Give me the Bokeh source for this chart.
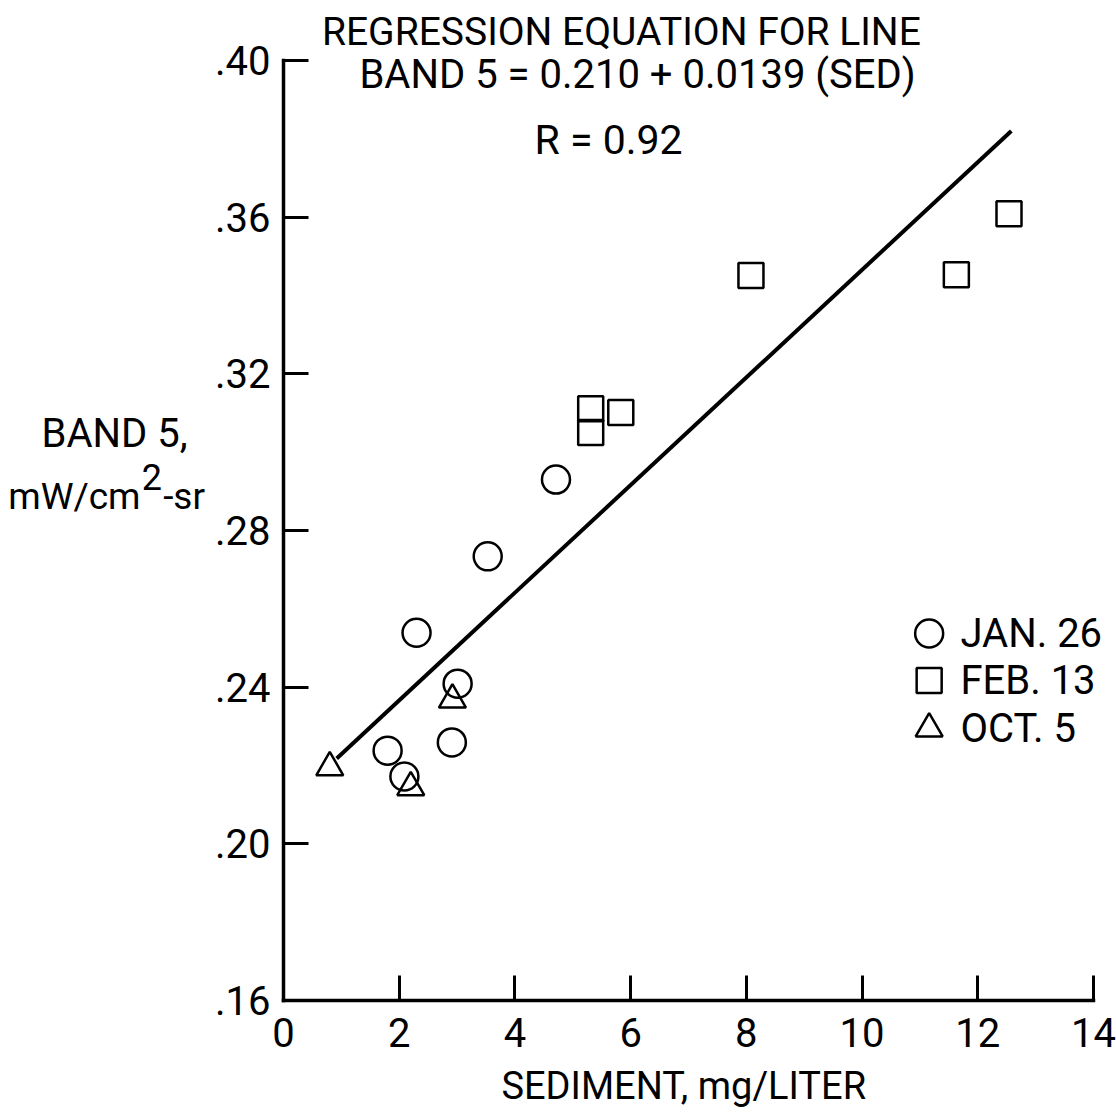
from bokeh.plotting import figure
from bokeh.models import FixedTicker, Label, Range1d
from bokeh.embed import file_html
from bokeh.resources import INLINE

FONT = "Roboto"

# ---- data ----
jan_x = [1.80, 2.09, 2.30, 2.91, 3.01, 3.53, 4.71]
jan_y = [0.2238, 0.2172, 0.2539, 0.2259, 0.2409, 0.2734, 0.2930]

feb_x = [5.31, 5.31, 5.83, 8.08, 11.63, 12.54]
feb_y = [0.3111, 0.3050, 0.3101, 0.3451, 0.3453, 0.3609]

oct_x = [0.80, 2.20, 2.92]
oct_y = [0.2195, 0.2144, 0.2368]

fit_x = [0.92, 12.58]
fit_y = [0.2218, 0.3820]

x_ticks = [0, 2, 4, 6, 8, 10, 12, 14]
x_tick_labels = ["0", "2", "4", "6", "8", "10", "12", "14"]
y_ticks = [0.16, 0.20, 0.24, 0.28, 0.32, 0.36, 0.40]
y_tick_labels = [".16", ".20", ".24", ".28", ".32", ".36", ".40"]

legend_labels = ["JAN. 26", "FEB. 13", "OCT. 5"]
title_lines = ["REGRESSION EQUATION FOR LINE", "BAND 5 = 0.210 + 0.0139 (SED)", "R = 0.92"]

# ---- figure (frame covers whole canvas; axes pinned at x=0 / y=.16) ----
p = figure(width=1116, height=1110, output_backend="svg", toolbar_location=None,
           x_range=Range1d(-4.891, 14.398), y_range=Range1d(0.13192, 0.41532),
           min_border=0)
p.outline_line_color = None
p.grid.visible = False
p.background_fill_color = "white"
p.border_fill_color = "white"

xa = p.xaxis[0]
ya = p.yaxis[0]
for ax in (xa, ya):
    ax.axis_line_width = 3.5
    ax.axis_line_color = "black"
    ax.axis_line_cap = "square"
    ax.major_tick_line_width = 3
    ax.major_tick_line_color = "black"
    ax.major_tick_in = 25
    ax.major_tick_out = 0
    ax.minor_tick_line_color = None
    ax.major_label_text_font = FONT
    ax.major_label_text_font_size = "40px"
    ax.major_label_text_color = "black"

xa.fixed_location = 0.16
xa.bounds = (0, 14)
xa.ticker = FixedTicker(ticks=x_ticks)
xa.major_label_overrides = dict(zip(x_ticks, x_tick_labels))
xa.major_label_standoff = 17

ya.fixed_location = 0
ya.bounds = (0.16, 0.40)
ya.ticker = FixedTicker(ticks=y_ticks)
ya.major_label_overrides = dict(zip(y_ticks, y_tick_labels))
ya.major_label_standoff = 13
ya.major_label_orientation = "horizontal"

# regression line
p.line(fit_x, fit_y, line_width=4, line_color="black")

# points
p.scatter(jan_x, jan_y, marker="circle", size=28, fill_color=None, line_color="black", line_width=2.5)
p.scatter(feb_x, feb_y, marker="square", size=25, fill_color=None, line_color="black", line_width=2.5)
p.scatter(oct_x, oct_y, marker="triangle", size=27, fill_color=None, line_color="black", line_width=2.5)

# legend
leg_x = 11.16
leg_y = [0.2537, 0.2417, 0.2294]
for mk, sz, yy, lab in zip(["circle", "square", "triangle"], [28, 25, 27], leg_y, legend_labels):
    p.scatter([leg_x], [yy], marker=mk, size=sz, fill_color=None, line_color="black", line_width=2.5)
    p.add_layout(Label(x=leg_x + 0.54, y=yy, text=lab, text_font=FONT, text_font_size="40px",
                       text_align="left", text_baseline="middle", text_color="black"))

# title lines
for (tx, ty), t, fs in zip([(5.84, 0.4074), (6.12, 0.3964), (5.62, 0.3798)], title_lines,
                           ["39px", "40px", "41px"]):
    p.add_layout(Label(x=tx, y=ty, text=t, text_font=FONT, text_font_size=fs,
                       text_align="center", text_baseline="middle", text_color="black"))

# y-axis label
p.add_layout(Label(x=-2.92, y=0.3048, text="BAND 5,", text_font=FONT, text_font_size="40px",
                   text_align="center", text_baseline="middle", text_color="black"))
p.add_layout(Label(x=-2.47, y=0.2887, text="mW/cm", text_font=FONT, text_font_size="37px",
                   text_align="right", text_baseline="alphabetic", text_color="black"))
p.add_layout(Label(x=-2.45, y=0.2936, text="2", text_font=FONT, text_font_size="36px",
                   text_align="left", text_baseline="alphabetic", text_color="black"))
p.add_layout(Label(x=-2.08, y=0.2887, text="-sr", text_font=FONT, text_font_size="37px",
                   text_align="left", text_baseline="alphabetic", text_color="black"))

# x-axis label
p.add_layout(Label(x=7.0, y=0.1383, text="SEDIMENT,  mg/LITER", text_font=FONT, text_font_size="38px",
                   text_align="center", text_baseline="middle", text_color="black"))

open("out.html", "w").write(file_html(p, INLINE))
